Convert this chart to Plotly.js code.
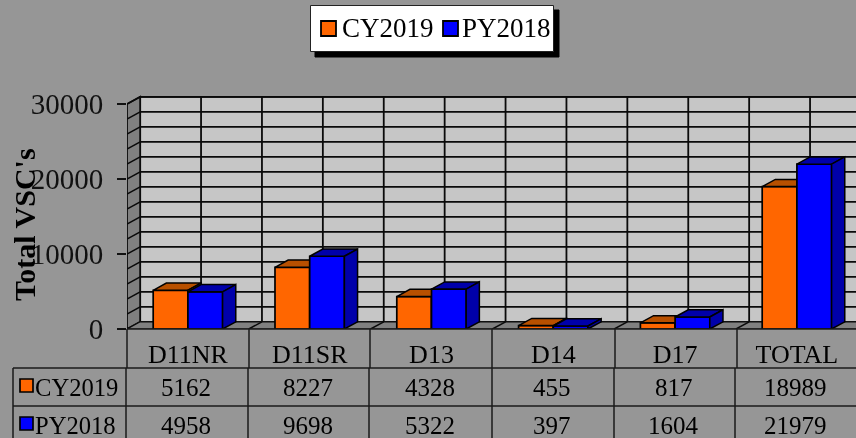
<!DOCTYPE html>
<html>
<head>
<meta charset="utf-8">
<script src="https://cdn.plot.ly/plotly-3.0.1.min.js"></script>
<style>html,body{margin:0;padding:0;background:#969696;overflow:hidden}
#chart{filter:blur(0.4px)}</style>
</head>
<body>
<div id="chart" style="width:856px;height:438px"></div>
<script>
var categories = ["D11NR","D11SR","D13","D14","D17","TOTAL"];
var cy2019 = [5162,8227,4328,455,817,18989];
var py2018 = [4958,9698,5322,397,1604,21979];
var seriesNames = ["CY2019","PY2018"];
var yTicks = [0,10000,20000,30000];
var axisTitle = "Total VSC's";

var W=856,H=438,L=127,T=90,B=109;
var FONT='"Liberation Serif","Times New Roman",serif';
var INK='#0a0a0a', DARK='#000000';
var ORANGE='#FF6600', ORANGE_D='#B85000', BLUE='#0000FF', BLUE_D='#0000AA';
var catPx=121.8, unitPx=0.0075;
var xMax=-0.5+(W-L)/catPx, yMax=(H-B-T)/unitPx;
var dX=0.108, dY=960, barW=0.285;
function px(x){return (x-L)/(W-L);}
function py(y){return (H-B-y)/(H-B-T);}

function frontBar(vals,color,off,ax){
  return {type:'bar',x:categories.map(function(c,i){return i;}),y:vals,width:barW,offset:off,
    marker:{color:color,line:{color:DARK,width:1.7}},hoverinfo:'skip',showlegend:false,cliponaxis:false,
    xaxis:ax[0],yaxis:ax[1]};
}
function face(vals,color,off,kind,ax){
  var xs=[],ys=[];
  vals.forEach(function(v,i){
    var a=i+off,b=a+barW;
    if(kind==='side'){
      xs.push(b,b+dX,b+dX,b,b,null); ys.push(0,dY,v+dY,v,0,null);
    }else{
      xs.push(a,a+dX,b+dX,b,a,null); ys.push(v,v+dY,v+dY,v,v,null);
    }
  });
  return {type:'scatter',mode:'lines',x:xs,y:ys,fill:'toself',fillcolor:color,
    line:{color:DARK,width:1.5},hoverinfo:'skip',showlegend:false,cliponaxis:false,
    xaxis:ax[0],yaxis:ax[1]};
}
var a1=['x','y'],a2=['x2','y2'];
var data=[
  frontBar(cy2019,ORANGE,-barW,a1),
  face(cy2019,ORANGE_D,-barW,'top',a1),
  face(cy2019,ORANGE_D,-barW,'side',a1),
  frontBar(py2018,BLUE,0,a2),
  face(py2018,BLUE_D,0,'top',a2),
  face(py2018,BLUE_D,0,'side',a2)
];

var shapes=[];
function poly(pts,fill,lw,layer){
  shapes.push({type:'path',xref:'x',yref:'y',layer:layer||'below',
    path:'M'+pts.map(function(p){return p[0]+' '+p[1];}).join('L')+'Z',
    fillcolor:fill,line:{color:INK,width:lw}});
}
function dline(x0,y0,x1,y1,lw){
  shapes.push({type:'line',xref:'x',yref:'y',layer:'below',x0:x0,y0:y0,x1:x1,y1:y1,line:{color:INK,width:lw}});
}
function pline(x0,y0,x1,y1,lw,col){
  shapes.push({type:'line',xref:'paper',yref:'paper',layer:'above',x0:px(x0),y0:py(y0),x1:px(x1),y1:py(y1),line:{color:col||'#1a1a1a',width:lw}});
}
function prect(x0,y0,x1,y1,fill,line,lw){
  shapes.push({type:'rect',xref:'paper',yref:'paper',layer:'above',x0:px(x0),y0:py(y0),x1:px(x1),y1:py(y1),fillcolor:fill,line:{color:line,width:lw}});
}
// walls and floor
var wallLeft=-0.5,wallTop=30000;
poly([[wallLeft+dX,dY],[xMax+1,dY],[xMax+1,wallTop+dY],[wallLeft+dX,wallTop+dY]],'#C6C6C6',1.8);
poly([[wallLeft,0],[wallLeft+dX,dY],[wallLeft+dX,wallTop+dY],[wallLeft,wallTop]],'#808080',1.8);
poly([[wallLeft,0],[wallLeft+dX,dY],[xMax+1,dY],[xMax+1,0]],'#808080',1.2);
for(var v=2000;v<=wallTop;v+=2000){
  dline(wallLeft,v,wallLeft+dX,v+dY,1.5);
  dline(wallLeft+dX,v+dY,xMax,v+dY,1.8);
}
for(var k=1;k<=12;k++){ dline(wallLeft+dX+k*0.5,dY,wallLeft+dX+k*0.5,wallTop+dY,1.8); }
for(var c=1;c<=6;c++){ dline(wallLeft+c,0,wallLeft+c+dX,dY,1.5); }

// data table rules
var rows=[368,406];
pline(13,rows[0],W,rows[0],1.5);
pline(13,rows[1],W,rows[1],1.5);
pline(13,rows[0],13,H,1.5);
pline(L,329,W,329,1.5);
[127,249,370,492,615,737].forEach(function(x){ pline(x,329,x,rows[0],1.5); });
[126,248,369,492,614,735].forEach(function(x){ pline(x,rows[0],x,H,1.5); });
// series keys in the table
prect(20,379,33,392,ORANGE,'#000',1.7);
prect(20,417,33,430,BLUE,'#000',1.7);
// legend box
prect(315,10,559,57,'#000','#000',1);
prect(310.5,5.5,553.5,51.5,'#FFFFFF','#222',1);
prect(321,21,336,36,ORANGE,'#000',1.8);
prect(443,21,458,36,BLUE,'#000',1.8);

var anns=[];
function txt(x,y,s,size,anchor,extra){
  var a={xref:'paper',yref:'paper',x:px(x),y:py(y),text:s,showarrow:false,xanchor:anchor,yanchor:'middle',
    font:{family:FONT,size:size,color:'#000'},borderpad:0,borderwidth:0};
  for(var k in extra){a[k]=extra[k];}
  anns.push(a);
}
txt(342,28,seriesNames[0],27,'left');
txt(462,28,seriesNames[1],27,'left');
txt(35.5,387,seriesNames[0],24.6,'left');
txt(35.5,425,seriesNames[1],24.6,'left');
txt(24,224,axisTitle,30,'center',{textangle:-90,font:{family:FONT,size:30,color:'#000',weight:700}});
categories.forEach(function(c,i){
  var cx=L+(i+0.5)*catPx-1.5;
  txt(cx,387,String(cy2019[i]),25,'center');
  txt(cx,425,String(py2018[i]),25,'center');
});

var layout={
  width:W,height:H,margin:{l:L,r:0,t:T,b:B,pad:0},
  paper_bgcolor:'#969696',plot_bgcolor:'rgba(0,0,0,0)',
  showlegend:false,barmode:'overlay',
  xaxis:{type:'linear',range:[wallLeft,xMax],showgrid:false,zeroline:false,showline:false,
    tickmode:'array',tickvals:categories.map(function(c,i){return i;}),ticktext:categories,
    ticks:'',ticklabelstandoff:7,tickfont:{family:FONT,size:26,color:'#000'}},
  yaxis:{type:'linear',range:[0,yMax],showgrid:false,zeroline:false,showline:false,
    tickmode:'array',tickvals:yTicks,ticktext:yTicks.map(String),ticks:'outside',ticklen:9,tickwidth:1.5,tickcolor:'#111',
    tickfont:{family:FONT,size:29,color:'#111'},ticklabelstandoff:8},
  xaxis2:{overlaying:'x',matches:'x',range:[wallLeft,xMax],visible:false},
  yaxis2:{overlaying:'y',matches:'y',range:[0,yMax],visible:false},
  shapes:shapes,annotations:anns
};
Plotly.newPlot('chart',data,layout,{displayModeBar:false,staticPlot:true});
</script>
</body>
</html>
